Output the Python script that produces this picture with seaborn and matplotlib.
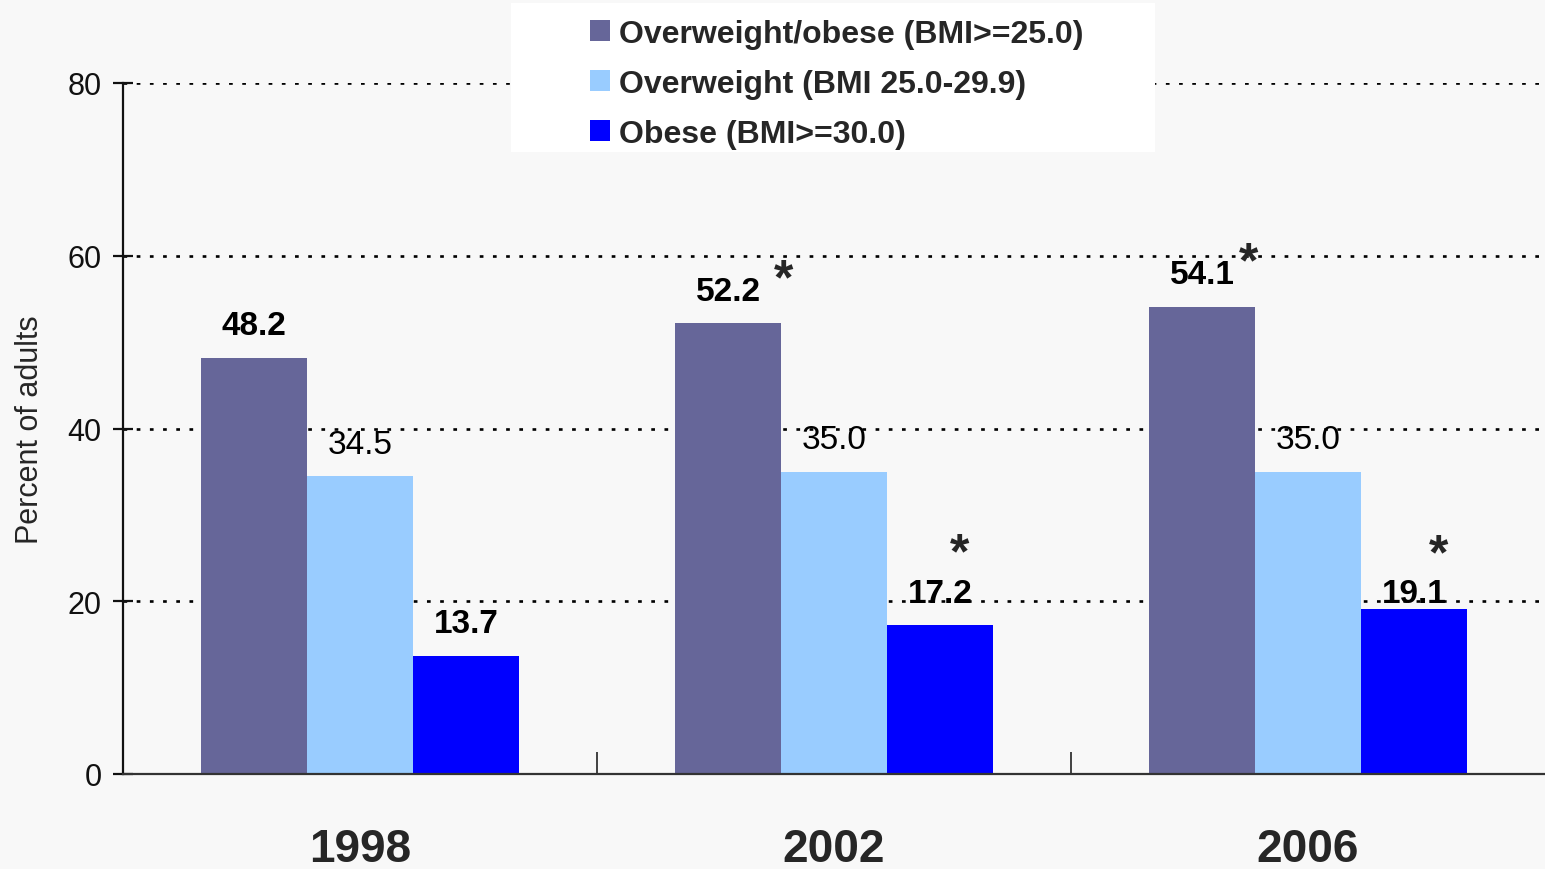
import matplotlib
matplotlib.use("Agg")
import matplotlib.pyplot as plt
import seaborn as sb
import pandas as pd
from matplotlib.patches import Rectangle

years = ["1998", "2002", "2006"]
groups = ["Overweight/obese (BMI>=25.0)", "Overweight (BMI 25.0-29.9)", "Obese (BMI>=30.0)"]
overweight_obese = [48.2, 52.2, 54.1]
overweight = [34.5, 35.0, 35.0]
obese = [13.7, 17.2, 19.1]
# which bars carry a significance star: (year index, group index)
starred = [(1, 0), (2, 0), (1, 2), (2, 2)]
colors = ["#666699", "#99CCFF", "#0000FF"]

# hand nudges (pixels) for labels/stars, like the original slide
label_nudge = {(2, 2): 16}
star_offset = {(1, 0): (55, 43), (2, 0): (46, 43), (1, 2): (20, 71), (2, 2): (25, 54)}

rows = []
for g, vals in zip(groups, [overweight_obese, overweight, obese]):
    for y, v in zip(years, vals):
        rows.append({"year": y, "group": g, "pct": v})
df = pd.DataFrame(rows)

sb.set_theme(style="white")
plt.rcParams["font.family"] = ["Liberation Sans", "DejaVu Sans"]

fig = plt.figure(figsize=(15.45, 8.7), dpi=100, facecolor="#F8F8F8")
ax = fig.add_axes([123 / 1545, 1 - 775 / 870, 1 - 123 / 1545, (775 - 84) / 870])
ax.set_facecolor("#F8F8F8")

sb.barplot(data=df, x="year", y="pct", hue="group", palette=colors, width=0.67,
           saturation=1, linewidth=0, ax=ax, legend=True)

ax.set_ylim(0, 80)
ax.set_xlim(-0.5, 2.5)
ax.set_yticks([0, 20, 40, 60, 80])
ax.set_axisbelow(True)
ax.yaxis.grid(True, color="black", linestyle=(0, (1.4, 3.6)), linewidth=1.9)
ax.xaxis.grid(False)

for side in ["top", "right"]:
    ax.spines[side].set_visible(False)
ax.spines["left"].set_color("#111111")
ax.spines["left"].set_linewidth(1.6)
ax.spines["bottom"].set_color("#333333")
ax.spines["bottom"].set_linewidth(1.6)

ax.tick_params(axis="y", direction="inout", length=15, width=1.6, colors="#111111",
               labelsize=22, pad=8, left=True)
ax.tick_params(axis="x", which="major", length=0, labelsize=33, pad=38)
for lab in ax.get_xticklabels():
    lab.set_fontweight("bold")
ax.set_xticks([0.5, 1.5], minor=True)
ax.tick_params(axis="x", which="minor", direction="in", length=16, width=1.3,
               color="#333333", bottom=True)

ax.set_xlabel("")
ax.set_ylabel("Percent of adults", fontsize=22, labelpad=16)

# value labels and stars
for gi, cont in enumerate(ax.containers):
    for yi, bar in enumerate(cont):
        v = bar.get_height()
        cx = bar.get_x() + bar.get_width() / 2
        dy = 32 - label_nudge.get((yi, gi), 0)
        ax.annotate(f"{v:.1f}", (cx, v), xytext=(0, dy), textcoords="offset pixels",
                    ha="center", va="center", fontsize=24,
                    fontweight="normal" if gi == 1 else "bold", color="black")
        if (yi, gi) in starred:
            sx, sy = star_offset[(yi, gi)]
            ax.annotate("*", (cx, v), xytext=(sx, sy), textcoords="offset pixels",
                        ha="center", va="center", fontsize=36, fontweight="bold")

# legend on a white panel
fig.patches.append(Rectangle((511 / 1545, 1 - 153 / 870), (1155 - 511) / 1545, 149 / 870,
                             transform=fig.transFigure, facecolor="white", edgecolor="none",
                             zorder=5))
handles, labels = ax.get_legend_handles_labels()
ax.get_legend().remove()
leg = fig.legend(handles, labels, loc="upper left", bbox_to_anchor=(574 / 1545, 1 - 4 / 870),
                 frameon=False, borderpad=0, handlelength=0.62, handleheight=0.62,
                 handletextpad=0.28, labelspacing=0.62, prop={"size": 23, "weight": "bold"})
leg.set_zorder(6)

fig.savefig("out.png", dpi=100, facecolor=fig.get_facecolor())
